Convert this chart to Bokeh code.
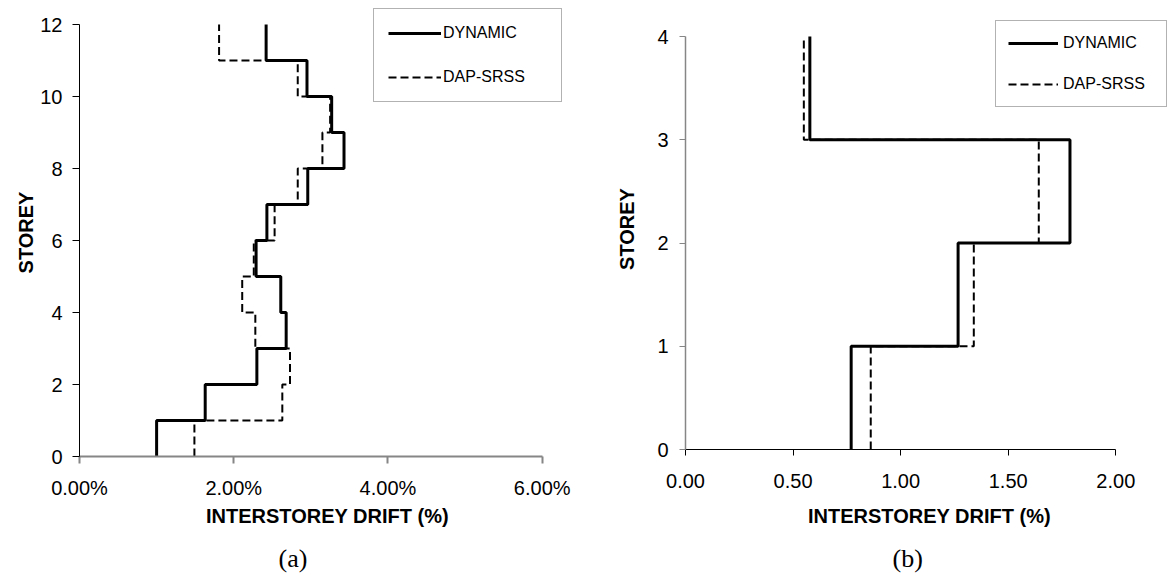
from bokeh.plotting import figure
from bokeh.layouts import row, column
from bokeh.models import (Legend, LegendItem, FixedTicker, PrintfTickFormatter, Range1d, Title)
from bokeh.embed import file_html
from bokeh.resources import INLINE

# ---------------- data ----------------
storeys_a = list(range(1, 13))
dynamic_a = [1.00, 1.63, 2.30, 2.68, 2.61, 2.29, 2.43, 2.96, 3.43, 3.27, 2.95, 2.42]
dapsrss_a = [1.49, 2.63, 2.73, 2.28, 2.11, 2.26, 2.53, 2.83, 3.15, 3.25, 2.83, 1.81]
xticks_a = [0, 2, 4, 6]
yticks_a = [0, 2, 4, 6, 8, 10, 12]

storeys_b = [1, 2, 3, 4]
dynamic_b = [0.77, 1.267, 1.787, 0.578]
dapsrss_b = [0.861, 1.34, 1.642, 0.55]
xticks_b = [0.0, 0.5, 1.0, 1.5, 2.0]
yticks_b = [0, 1, 2, 3, 4]

series_names = ["DYNAMIC", "DAP-SRSS"]
captions = ["(a)", "(b)"]
x_title = "INTERSTOREY DRIFT (%)"
y_title = "STOREY"

SANS = "Liberation Sans"
SERIF = "Liberation Serif"

H = 584
FRAME_TOP = 8


def step_path(values, storeys):
    xs, ys = [], []
    for v, s in zip(values, storeys):
        xs += [v, v]
        ys += [s - 1, s]
    return xs, ys


def make_panel(dyn, dap, storeys, xticks, yticks, xfmt, cfg):
    W = cfg["width"]
    fw = W - cfg["bl"] - cfg["br"]
    ax_top, ax_bottom = cfg["axis_top"], cfg["axis_bottom"]
    ux = (xticks[-1] - xticks[0]) / cfg["axis_px_x"]
    uy = (yticks[-1] - yticks[0]) / (ax_bottom - ax_top)
    x_end = xticks[0] + fw * ux
    y_end = yticks[-1] + (ax_top - FRAME_TOP) * uy

    p = figure(width=W, height=H, output_backend="svg", toolbar_location=None,
               x_range=Range1d(xticks[0], x_end), y_range=Range1d(yticks[0], y_end),
               min_border_left=cfg["bl"], min_border_right=cfg["br"],
               min_border_top=FRAME_TOP, min_border_bottom=H - int(round(ax_bottom)))
    p.outline_line_color = None
    p.grid.visible = False
    p.background_fill_color = "white"
    p.border_fill_color = "white"

    xs, ys = step_path(dyn, storeys)
    r1 = p.line(xs, ys, line_color="black", line_width=3)
    xs, ys = step_path(dap, storeys)
    r2 = p.line(xs, ys, line_color="black", line_width=2, line_dash="8 4")

    xa = p.xaxis[0]
    xa.bounds = (xticks[0], xticks[-1])
    xa.ticker = FixedTicker(ticks=xticks)
    xa.formatter = PrintfTickFormatter(format=xfmt)
    xa.axis_line_color = cfg["xcol"]
    xa.axis_line_width = cfg["xw"]
    xa.major_tick_line_color = cfg["xcol"]
    xa.major_tick_line_width = cfg["xw"]
    xa.major_tick_in = 0
    xa.major_tick_out = cfg["xtick"]
    xa.minor_tick_out = 0
    xa.minor_tick_in = 0
    xa.major_label_text_font = SANS
    xa.major_label_text_font_size = "20px"
    xa.major_label_text_color = "black"
    xa.major_label_standoff = cfg["xls"]
    xa.axis_label = x_title
    xa.axis_label_text_font = SANS
    xa.axis_label_text_font_size = "20px"
    xa.axis_label_text_font_style = "bold"
    xa.axis_label_text_color = "black"
    xa.axis_label_standoff = cfg["xas"]

    ya = p.yaxis[0]
    ya.bounds = (yticks[0], yticks[-1])
    ya.ticker = FixedTicker(ticks=yticks)
    ya.axis_line_color = cfg["ycol"]
    ya.axis_line_width = cfg["yw"]
    ya.major_tick_line_color = cfg["ycol"]
    ya.major_tick_line_width = 1
    ya.major_tick_in = 0
    ya.major_tick_out = cfg["ytick"]
    ya.minor_tick_out = 0
    ya.minor_tick_in = 0
    ya.major_label_text_font = SANS
    ya.major_label_text_font_size = "20px"
    ya.major_label_text_color = "black"
    ya.major_label_standoff = cfg["yls"]
    ya.axis_label = y_title
    ya.axis_label_text_font = SANS
    ya.axis_label_text_font_size = "20px"
    ya.axis_label_text_font_style = "bold"
    ya.axis_label_text_color = "black"
    ya.axis_label_standoff = cfg["yas"]

    legend = Legend(items=[LegendItem(label=series_names[0], renderers=[r1]),
                           LegendItem(label=series_names[1], renderers=[r2])],
                    location=cfg["legloc"])
    legend.label_text_font = SANS
    legend.label_text_font_size = "16px"
    legend.label_text_color = "black"
    legend.glyph_width = cfg["gw"]
    legend.glyph_height = 20
    legend.label_height = 20
    legend.label_width = cfg["lw"]
    legend.label_standoff = cfg["lso"]
    legend.spacing = cfg["sp"]
    legend.padding = cfg["pad"]
    legend.margin = 0
    legend.border_line_color = "#666666"
    legend.border_line_width = 1
    legend.background_fill_color = "white"
    legend.background_fill_alpha = 1.0
    p.add_layout(legend)

    cap = Title(text=cfg["caption"], align="left", offset=cfg["capoff"],
                text_font=SERIF, text_font_size="26px", text_font_style="normal",
                text_color="black", standoff=cfg["capso"])
    p.add_layout(cap, "below")
    return p


cfg_a = dict(width=580, bl=79, br=5, axis_px_x=462.7, axis_top=24, axis_bottom=456,
             xcol="#868686", xw=2, xtick=7, xls=13, xas=3,
             ycol="black", yw=1, ytick=7, yls=10, yas=0,
             legloc=(294, 354), gw=53, lw=104, lso=2, sp=24, pad=14,
             caption=captions[0], capoff=199, capso=24)
cfg_b = dict(width=594, bl=105, br=1, axis_px_x=430.3, axis_top=36, axis_bottom=449,
             xcol="black", xw=1, xtick=6, xls=18, xas=14,
             ycol="#868686", yw=1.5, ytick=6, yls=11, yas=16,
             legloc=(310, 342), gw=50, lw=91, lso=5, sp=21, pad=12,
             caption=captions[1], capoff=207, capso=24)

p1 = make_panel(dynamic_a, dapsrss_a, storeys_a, xticks_a, yticks_a, "%.2f%%", cfg_a)
p2 = make_panel(dynamic_b, dapsrss_b, storeys_b, xticks_b, yticks_b, "%.2f", cfg_b)

layout = row(column(p1), column(p2))
open("out.html", "w").write(file_html(layout, INLINE))
